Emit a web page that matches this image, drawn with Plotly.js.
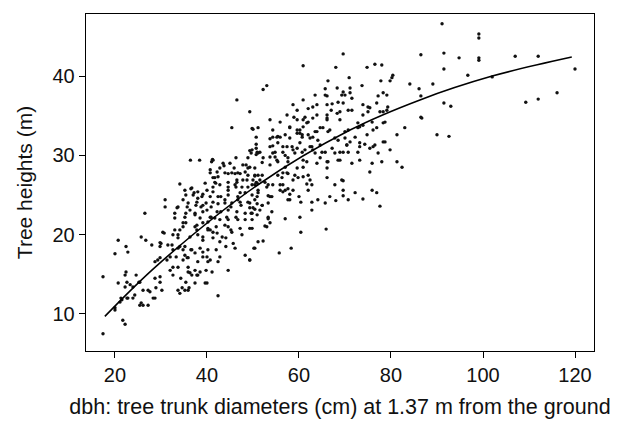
<!DOCTYPE html>
<html>
<head>
<meta charset="utf-8">
<script src="https://cdn.plot.ly/plotly-3.0.1.min.js"></script>
<style>
  html, body { margin: 0; padding: 0; background: #fff; }
  #chart { width: 621px; height: 421px; }
</style>
</head>
<body>
<div id="chart"></div>
<script>
// Tree trunk diameter (cm) at breast height
const dbh = [
  46.5,49.3,45.4,49.8,50.7,50.7,50.7,49.3,49.6,50.7,
  36.4,38.4,41.2,41.0,46.3,48.9,45.0,42.8,43.7,45.9,
  48.5,49.3,50.4,40.7,48.3,47.2,48.9,50.4,41.7,42.4,
  44.6,46.1,47.8,48.7,50.0,41.7,44.6,46.5,50.7,34.1,
  36.5,35.4,37.2,38.0,39.1,41.3,41.9,43.0,44.6,46.3,
  47.2,48.9,50.4,30.9,30.9,33.7,35.7,37.6,38.7,39.8,
  40.9,42.4,43.9,45.2,46.7,47.4,48.9,50.0,26.5,33.0,
  35.4,37.4,39.1,40.9,43.0,44.6,46.3,48.3,49.6,30.4,
  33.0,35.4,37.4,39.1,40.2,42.0,43.9,45.2,47.2,49.3,
  32.6,33.7,38.0,39.1,41.3,42.8,44.1,45.7,20.7,25.7,
  26.7,30.0,31.5,32.6,35.2,36.5,38.5,40.2,42.0,44.1,
  46.1,48.3,50.4,20.0,22.4,22.8,28.7,29.8,32.0,33.3,
  34.8,35.9,38.0,39.1,40.7,42.8,49.3,33.7,35.9,37.4,
  39.8,44.6,17.4,22.4,24.6,28.7,29.8,32.6,34.3,38.0,
  20.7,22.2,23.3,25.4,27.2,28.9,33.7,34.1,35.4,35.9,
  37.4,39.6,21.3,21.1,22.8,24.3,25.7,26.1,27.2,28.7,
  42.4,20.0,21.7,22.2,17.4,
  69.6,60.9,68.0,74.8,76.5,78.0,80.4,80.2,66.3,70.9,
  77.8,79.8,84.1,53.0,52.2,65.7,68.3,69.6,71.1,73.7,
  63.5,66.1,70.0,71.5,77.2,78.3,79.1,60.9,58.7,63.0,
  63.9,66.1,67.2,69.6,73.9,75.0,76.9,59.6,62.0,68.9,
  70.7,71.5,75.0,57.4,61.3,63.9,66.1,68.3,73.9,78.3,
  79.1,53.7,55.9,59.6,62.0,61.7,66.1,73.9,78.3,50.0,
  51.1,58.0,59.6,64.6,66.7,73.2,76.9,83.0,60.2,60.7,
  63.5,70.0,81.3,54.3,55.9,58.0,62.4,64.1,68.5,71.1,
  73.2,74.3,76.5,78.3,53.7,57.4,59.6,62.8,63.0,67.2,
  70.4,76.1,50.9,54.8,58.7,60.7,65.0,68.9,69.6,70.7,
  72.8,79.8,52.2,55.4,57.6,61.7,64.6,66.1,68.5,78.0,
  81.3,53.7,57.0,59.6,60.9,66.1,82.4,50.4,55.4,56.5,
  57.6,59.1,60.9,62.0,66.1,75.4,51.5,56.3,58.7,59.8,
  62.4,69.3,
  50.9,52.6,54.3,55.9,56.5,61.7,62.8,67.8,69.6,
  51.1,53.0,55.9,56.5,57.6,58.7,62.0,69.6,75.9,76.9,
  72.2,49.8,50.9,53.3,54.1,58.0,60.0,69.6,66.7,50.4,
  58.0,60.4,62.8,64.1,65.7,68.0,70.7,73.9,50.9,52.0,
  53.3,77.6,49.3,50.4,62.8,54.1,49.8,50.9,60.2,53.3,
  57.0,52.6,53.7,49.8,60.4,65.9,51.1,52.2,50.2,55.7,
  58.3,49.3,
  91.1,99.1,99.1,86.5,91.5,94.8,99.1,99.1,107.0,112.0,
  91.5,120.0,96.7,102.0,89.1,86.1,86.5,91.5,93.0,109.3,
  112.0,116.1,86.5,86.7,90.0,92.6,
  53.7,55.4,54.3,49.8,51.1,51.5,56.5,54.3,53.7,54.8,
  57.0,52.0,47.8,48.9,51.1,52.0,57.4,41.3,43.5,42.2,
  43.9,45.4,46.7,40.7,41.3,46.5,39.6,42.8,44.6,46.1,
  47.6,49.8,53.3,57.0,57.6,35.2,36.7,38.0,40.0,41.3,
  37.0,38.9,40.7,42.4,44.6,46.7,48.3,51.1,53.7,34.8,
  35.9,37.8,39.1,41.3,43.9,45.4,47.2,49.3,52.0,33.5,
  36.3,37.4,40.0,42.2,44.6,46.5,48.3,51.5,33.0,35.2,
  38.5,40.7,42.8,44.3,46.7,49.8,53.3,34.8,37.8,40.2,
  41.3,44.6,45.4,53.0,33.7,36.3,39.1,43.3,47.6,
  65.7,69.3,71.1,68.5,67.0,75.4,77.6,79.3,58.9,60.9,
  63.0,66.1,68.9,72.8,75.9,78.7,54.3,58.0,60.2,60.9,
  63.9,65.2,66.3,70.7,72.8,76.1,55.2,57.0,59.6,60.7,
  62.0,63.0,67.8,70.0,72.2,74.8,78.7,55.4,58.5,60.2,
  62.4,64.6,70.4,73.2,75.4,56.5,59.1,61.3,63.5,65.7,
  67.8,77.2,55.2,57.6,60.9,63.9,66.3,68.9,71.5,73.2,
  75.9,
  34.8,37.8,40.2,41.7,40.7,42.2,30.7,34.1,28.0,29.8,
  29.8,32.4,33.7,34.1,34.8,35.2,35.7,36.7,37.4,39.1,
  40.0,40.2,42.4,29.3,31.3,32.0,32.6,35.9,36.3,36.7,
  37.8,38.5,40.0,41.1,22.2,22.6,23.9,25.2,26.1,27.6,
  29.8,30.2,34.6,35.2,36.1,21.5,22.6,23.9,25.4,28.3,
  20.0
];
// Tree heights (m), same order as dbh
const height = [
  37.0,35.5,33.5,33.4,32.3,31.4,30.9,30.6,30.3,30.1,
  29.4,29.4,29.5,29.2,29.7,29.7,29.0,28.4,28.7,28.4,
  28.8,28.5,28.4,28.2,27.9,27.7,27.5,27.4,27.2,27.3,
  27.7,27.7,26.9,26.9,26.9,26.6,26.6,26.6,26.6,26.4,
  25.8,25.0,25.3,24.6,25.1,26.0,26.5,24.8,25.6,26.0,
  25.3,26.0,26.3,24.4,23.5,23.5,23.5,23.7,23.5,24.0,
  23.5,23.9,24.4,23.5,24.4,23.7,24.1,23.4,22.7,22.7,
  22.7,22.5,22.9,22.2,22.9,21.9,22.2,21.9,22.7,20.3,
  20.6,21.5,21.0,21.5,20.6,21.0,21.2,20.6,20.8,20.8,
  20.0,19.6,20.0,19.3,19.6,19.1,19.6,18.9,19.3,19.7,
  19.3,18.9,18.7,18.1,18.5,18.1,18.3,18.1,18.1,18.5,
  18.3,17.4,18.3,17.6,18.5,17.8,16.6,17.1,17.2,17.2,
  16.8,17.1,16.6,17.2,16.8,17.2,16.8,15.9,15.9,15.5,
  15.5,15.5,14.7,15.3,14.9,14.5,14.7,14.9,14.5,14.9,
  13.9,13.4,13.7,14.0,13.0,13.3,13.0,12.6,14.0,13.0,
  13.9,13.9,12.0,11.5,12.0,12.4,11.4,11.1,11.1,12.0,
  12.3,10.8,9.2,8.7,7.5,
  42.8,41.3,41.1,41.1,41.5,41.4,40.1,39.8,39.4,39.8,
  39.4,39.4,39.0,38.8,38.3,38.4,38.5,38.0,38.5,38.8,
  37.6,37.5,37.6,37.2,37.5,37.9,37.6,37.0,36.4,36.1,
  36.4,36.4,36.5,36.6,36.4,36.1,36.6,35.7,35.9,35.5,
  35.7,35.7,35.5,35.1,34.8,35.1,35.1,35.3,35.1,35.5,
  35.7,34.5,34.2,34.5,34.2,34.1,34.7,33.8,34.1,33.3,
  33.5,33.5,33.2,33.5,33.2,33.6,33.5,33.5,32.8,32.6,
  33.0,33.0,32.6,32.3,32.3,32.2,32.2,31.9,31.9,31.7,
  31.6,31.4,31.3,31.7,31.1,31.1,30.9,31.1,30.7,30.9,
  31.3,31.1,30.4,30.4,30.7,30.4,30.4,30.4,30.4,30.4,
  30.4,30.7,29.7,29.2,29.7,29.2,29.7,29.2,29.4,29.2,
  29.2,28.8,28.5,28.4,28.5,28.4,28.5,27.5,27.5,27.8,
  27.7,27.5,27.3,27.5,27.2,27.9,26.9,27.2,26.9,27.2,
  26.9,26.9,
  26.5,26.6,26.3,26.3,26.3,26.4,26.3,26.3,26.8,
  25.6,26.0,25.6,25.4,25.8,25.6,25.6,25.6,25.6,25.3,
  25.3,25.0,24.8,24.9,24.8,25.1,24.8,24.9,24.8,24.4,
  24.4,24.1,24.1,24.4,24.0,24.3,24.4,24.5,23.9,23.7,
  24.0,23.6,23.4,23.2,23.1,22.9,22.7,22.5,22.2,22.0,
  22.0,21.1,21.5,20.8,20.3,20.7,19.1,19.2,18.3,17.7,
  18.3,16.8,
  46.6,45.3,44.8,42.7,42.9,42.3,42.3,42.0,42.5,42.5,
  40.9,40.9,40.1,39.9,39.0,38.4,37.5,36.6,36.2,36.7,
  37.1,37.9,34.8,34.7,32.6,32.4,
  32.1,32.4,31.2,30.7,30.3,30.4,31.1,30.3,29.8,29.8,
  30.0,29.1,28.8,28.4,27.5,27.5,27.8,29.4,29.0,27.9,
  27.8,27.8,27.8,27.8,27.2,26.9,26.5,26.3,26.0,26.3,
  26.0,26.3,26.3,25.6,24.4,25.6,25.9,25.4,25.6,25.4,
  25.0,24.8,24.8,24.8,25.0,24.8,25.3,25.3,24.8,24.4,
  24.0,24.1,23.7,24.1,24.0,24.0,24.1,24.0,23.7,23.4,
  23.1,22.7,23.1,22.9,23.1,22.9,22.7,23.1,22.1,22.2,
  22.1,22.2,21.9,22.2,21.9,21.9,22.2,21.0,20.6,20.8,
  20.3,21.0,20.3,21.0,20.0,19.7,19.7,19.7,20.0,
  37.6,37.6,37.9,36.7,35.7,36.0,35.5,36.1,34.8,34.5,
  34.7,34.5,34.5,34.1,34.2,34.2,33.2,33.6,33.2,33.6,
  33.0,33.5,33.0,33.2,33.5,33.2,32.3,32.6,32.8,32.3,
  32.6,32.3,32.2,32.2,32.3,32.6,31.7,31.6,31.1,31.6,
  31.1,31.3,31.3,31.1,30.9,30.4,30.3,30.7,30.3,30.4,
  30.3,30.3,29.4,29.2,29.4,29.0,29.2,29.4,29.0,29.4,
  29.0,
  21.5,21.2,21.6,22.1,20.6,20.2,20.2,20.6,18.7,19.0,
  18.5,18.7,18.3,18.5,18.1,17.4,17.1,18.1,17.7,17.8,
  17.2,16.6,16.6,16.8,16.8,15.5,15.9,15.3,15.2,14.9,
  14.9,15.3,13.9,15.3,14.9,14.0,13.4,14.0,13.0,12.8,
  14.0,13.0,13.3,13.0,13.3,11.8,12.0,12.0,11.1,12.0,
  10.5
];
// Fitted curve
const fitDbh = [17.8, 29.3, 51.1, 71.1, 86.3, 102.0, 119.3];
const fitHeight = [9.7, 16.2, 26.3, 33.2, 37.0, 40.0, 42.4];

const xTicks = [20, 40, 60, 80, 100, 120];
const yTicks = [10, 20, 30, 40];

const FONT = '"Liberation Sans", Arial, Helvetica, sans-serif';

const traces = [
  {
    type: 'scatter', mode: 'markers',
    x: dbh, y: height,
    marker: { color: '#111', size: 3.4, line: { width: 0 } },
    hoverinfo: 'skip', showlegend: false
  },
  {
    type: 'scatter', mode: 'lines',
    x: fitDbh, y: fitHeight,
    line: { color: '#000', width: 1.6, shape: 'spline', smoothing: 1 },
    hoverinfo: 'skip', showlegend: false
  }
];

const axisCommon = {
  showgrid: false, zeroline: false,
  showline: true, mirror: true, linecolor: '#000', linewidth: 1.3,
  ticks: 'outside', ticklen: 6, tickwidth: 1, tickcolor: '#000',
  tickfont: { family: FONT, size: 20, color: '#111' },
  automargin: false
};

const layout = {
  width: 621, height: 421,
  margin: { l: 86, r: 27, t: 14, b: 70 },
  paper_bgcolor: '#fff', plot_bgcolor: '#fff',
  font: { family: FONT, color: '#111' },
  showlegend: false,
  xaxis: Object.assign({}, axisCommon, {
    range: [13.7, 124.13],
    tickmode: 'array', tickvals: xTicks, ticktext: xTicks.map(String),
    title: { text: 'dbh: tree trunk diameters (cm) at 1.37 m from the ground',
             font: { family: FONT, size: 21.5, color: '#111' }, standoff: 13 }
  }),
  yaxis: Object.assign({}, axisCommon, {
    range: [5.33, 47.83],
    tickmode: 'array', tickvals: yTicks, ticktext: yTicks.map(String),
    title: { text: 'Tree heights (m)',
             font: { family: FONT, size: 21, color: '#111' }, standoff: 14 }
  })
};

Plotly.newPlot('chart', traces, layout, { displayModeBar: false, staticPlot: true });
</script>
</body>
</html>
